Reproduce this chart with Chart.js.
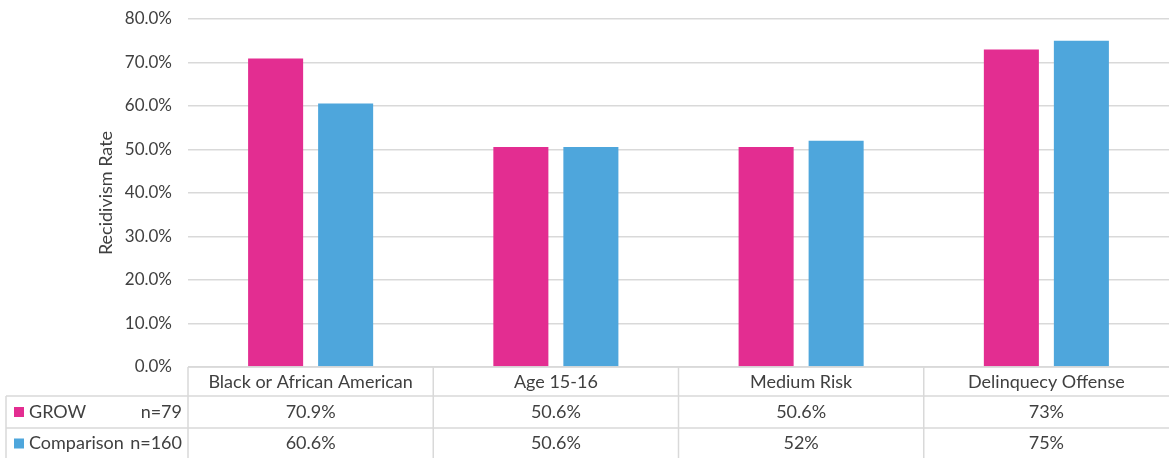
<!DOCTYPE html>
<html lang="en">
<head>
  <meta charset="UTF-8">
  <title>Recidivism Rate – GROW vs Comparison</title>
  <script src="https://cdn.jsdelivr.net/npm/chart.js"></script>
  <style>
    html, body { margin: 0; padding: 0; background: #fff; }
    #wrap { width: 1169px; height: 458px; }
  </style>
</head>
<body>
  <div id="wrap"><canvas id="grafica"></canvas></div>

  <script>
    // Categories and series
    const categorias = ['Black or African American', 'Age 15-16', 'Medium Risk', 'Delinquecy Offense'];
    const series = ['GROW', 'Comparison'];
    const tamanos = ['n=79', 'n=160'];
    const grow = [70.9, 50.6, 50.6, 73];
    const comparison = [60.6, 50.6, 52, 75];
    const colores = ['#e32d91', '#4ea6dc'];
    const ticksY = [0, 10, 20, 30, 40, 50, 60, 70, 80];

    const fuente = 'Lato, "Liberation Sans", sans-serif';
    const gris = '#d9d9d9';
    const texto = '#404040';

    const fmt = v => Number.isInteger(v) ? v + '%' : v.toFixed(1) + '%';

    // Data table under the plot, aligned with the category scale
    const tablaDatos = {
      id: 'tablaDatos',
      afterDraw(chart) {
        const { ctx, chartArea } = chart;
        const left = chartArea.left, right = chartArea.right;
        const top = chartArea.bottom;
        const filas = [top, top + 29, top + 61, top + 92];
        const tablaIzq = 6;
        const ancho = (right - left) / categorias.length;
        const valores = [grow, comparison];

        ctx.save();
        ctx.strokeStyle = gris;
        ctx.lineWidth = 1.5;
        ctx.beginPath();
        // horizontal lines
        ctx.moveTo(left, filas[0]); ctx.lineTo(right, filas[0]);
        ctx.moveTo(tablaIzq, filas[1]); ctx.lineTo(right, filas[1]);
        ctx.moveTo(tablaIzq, filas[2]); ctx.lineTo(right, filas[2]);
        // vertical lines
        ctx.moveTo(tablaIzq, filas[1]); ctx.lineTo(tablaIzq, filas[3]);
        for (let i = 0; i < categorias.length; i++) {
          const x = left + i * ancho;
          ctx.moveTo(x, filas[0]); ctx.lineTo(x, filas[3]);
        }
        ctx.stroke();

        ctx.fillStyle = texto;
        ctx.font = '18px ' + fuente;
        ctx.textBaseline = 'middle';
        ctx.textAlign = 'center';
        categorias.forEach((c, i) => {
          const xc = left + (i + 0.5) * ancho;
          ctx.fillText(c, xc, (filas[0] + filas[1]) / 2 + 1);
          valores.forEach((serie, s) => {
            ctx.fillText(fmt(serie[i]), xc, (filas[s + 1] + filas[s + 2]) / 2);
          });
        });

        // series legend cells
        series.forEach((nombre, s) => {
          const yc = (filas[s + 1] + filas[s + 2]) / 2;
          ctx.fillStyle = colores[s];
          ctx.fillRect(14, yc - 5, 10, 10);
          ctx.fillStyle = texto;
          ctx.textAlign = 'left';
          ctx.fillText(nombre, 29, yc);
          ctx.textAlign = 'right';
          ctx.fillText(tamanos[s], left - 6, yc);
        });
        ctx.restore();
      }
    };

    new Chart(document.getElementById('grafica'), {
      type: 'bar',
      data: {
        labels: categorias,
        datasets: [
          { label: series[0], data: grow, backgroundColor: colores[0] },
          { label: series[1], data: comparison, backgroundColor: colores[1] }
        ]
      },
      options: {
        responsive: true,
        maintainAspectRatio: false,
        animation: false,
        layout: { padding: { left: 95, right: 0, top: 19, bottom: 91 } },
        datasets: {
          bar: { categoryPercentage: 0.571, barPercentage: 0.786 }
        },
        plugins: {
          legend: { display: false },
          tooltip: { enabled: false }
        },
        scales: {
          x: { display: false },
          y: {
            min: 0,
            max: 80,
            afterFit(scale) {
              scale.width = 93;
              scale.paddingTop = 0;
              scale.paddingBottom = 0;
            },
            afterBuildTicks(scale) { scale.ticks = ticksY.map(v => ({ value: v })); },
            border: { display: false },
            grid: { color: gris, lineWidth: 1.5, drawTicks: false },
            ticks: {
              padding: 16,
              color: texto,
              font: { family: fuente, size: 17 },
              callback: v => v.toFixed(1) + '%'
            },
            title: {
              display: true,
              text: 'Recidivism Rate',
              color: texto,
              font: { family: fuente, size: 18 },
              padding: { top: 0, bottom: 0 }
            }
          }
        }
      },
      plugins: [tablaDatos]
    });
  </script>
</body>
</html>
